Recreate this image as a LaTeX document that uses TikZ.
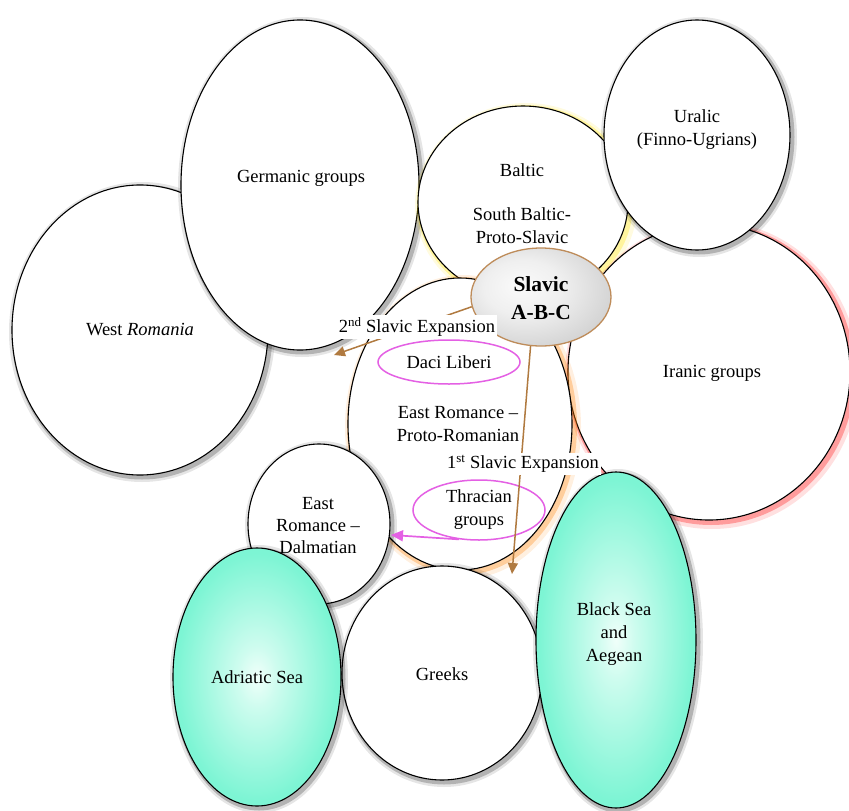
\documentclass[tikz,border=0pt]{standalone}
\usepackage{fontspec}
\setmainfont{Liberation Serif}
\usetikzlibrary{shapes.geometric,arrows.meta}
\definecolor{brownarrow}{RGB}{176,122,64}
\definecolor{slavborder}{RGB}{190,140,90}
\definecolor{magline}{RGB}{228,96,228}
\definecolor{seacenter}{RGB}{240,255,250}
\definecolor{seamid}{RGB}{125,245,212}
\definecolor{seaedge}{RGB}{128,208,190}
\definecolor{slavlight}{RGB}{250,250,250}
\definecolor{slavdark}{RGB}{178,178,178}
\pgfdeclareradialshading{seashade}{\pgfpoint{0bp}{0bp}}{color(0bp)=(seacenter); color(6bp)=(seacenter!70!seamid); color(24bp)=(seamid); color(40bp)=(seamid); color(50bp)=(seaedge); color(70bp)=(seaedge)}
\pgfdeclareradialshading{slavshade}{\pgfpoint{-8bp}{6bp}}{color(0bp)=(slavlight); color(14bp)=(slavlight!85!slavdark); color(50bp)=(slavdark); color(70bp)=(slavdark)}
\begin{document}
\begin{tikzpicture}[x=1pt,y=-1pt,
  every node/.style={font=\fontsize{18.5}{23}\selectfont, align=center},
  blob/.style={ellipse, draw=black, line width=1.1pt, fill=white, inner sep=0pt},
  halo/.style={preaction={draw=#1,line width=10pt,draw opacity=.10,transform canvas={shift={(2pt,-2pt)}}},
               preaction={draw=#1,line width=5pt,draw opacity=.22,transform canvas={shift={(2pt,-2pt)}}}},
  glow/.style={preaction={draw=#1,line width=12pt,draw opacity=.12,transform canvas={shift={(3pt,-3pt)}}},
               preaction={draw=#1,line width=6pt,draw opacity=.30,transform canvas={shift={(2pt,-2pt)}}}},
  sea/.style={blob, shading=seashade},
  tagbox/.style={fill=white, inner sep=2pt},
  ring/.style={ellipse, draw=magline, line width=1.5pt, fill=white, inner sep=0pt},
  brarrow/.style={draw=brownarrow, line width=1.5pt, -{Triangle[length=11pt,width=10pt]}},
  magarrow/.style={draw=magline, line width=1.7pt, -{Triangle[length=12pt,width=11pt]}}
]
\useasboundingbox (0,0) rectangle (849,811);

% outer blobs
\node[blob, halo=black, minimum width=256pt, minimum height=290pt] (westrom) at (140,330) {};
\node[blob, halo=black, minimum width=238pt, minimum height=330pt] (germ) at (300,185) {};
\node[blob, glow=yellow!85!orange, minimum width=210pt, minimum height=192pt] (baltic) at (523,202) {};
\node[blob, glow=red, minimum width=282pt, minimum height=296pt] (iran) at (709,372) {};
\node[blob, halo=black, minimum width=186pt, minimum height=230pt] (ural) at (697,135) {};
\node[blob, glow=orange, minimum width=224pt, minimum height=292pt] (protorom) at (460,424) {};
\node[blob, halo=black, minimum width=142pt, minimum height=160pt] (dalm) at (319,524) {};
\node[blob, halo=black, minimum width=200pt, minimum height=214pt] (greeks) at (442,673) {};
\node[sea, halo=black, minimum width=168pt, minimum height=258pt] (adriatic) at (257,677) {};
\node[sea, halo=black, minimum width=160pt, minimum height=336pt] (blacksea) at (616,640) {};

% Slavic core
\node[ellipse, draw=slavborder, line width=1.3pt, shading=slavshade,
      minimum width=140pt, minimum height=98pt, inner sep=0pt] (slavic) at (541,297) {};

% inner rings
\node[ring, minimum width=142pt, minimum height=44pt] (daci) at (449,362) {Daci Liberi};
\node[ring, minimum width=132pt, minimum height=60pt] (thrac) at (479,510) {Thracian\\groups};

% texts
\node (twest) at (140,330) {West \textit{Romania}};
\node (tgerm) at (301,178) {Germanic groups};
\node (tbal1) at (522,170) {Baltic};
\node (tbal2) at (522,226) {South Baltic-\\Proto-Slavic};
\node (tural) at (697,130) {Uralic\\(Finno-Ugrians)};
\node (tiran) at (712,373) {Iranic groups};
\node[font=\fontsize{21.5}{28}\selectfont\bfseries] (tslav) at (541,298) {Slavic\\A-B-C};
\node (tprot) at (458,424) {East Romance --\\Proto-Romanian};
\node[font=\fontsize{18.5}{22}\selectfont] (tdalm) at (318,526) {East\\Romance --\\Dalmatian};
\node (tadr) at (257,677) {Adriatic Sea};
\node (tgre) at (442,674) {Greeks};
\node (tblk) at (614,634) {Black Sea\\and\\Aegean};

% arrows
\coordinate (end2) at (334,355);
\coordinate (end1) at (512,574);
\coordinate (end3) at (391,535);
\draw[brarrow] (slavic.188) -- (end2);
\draw[brarrow] (slavic.258) -- (end1);
\draw[magarrow] (thrac.236) -- (end3);

% expansion labels
\node[tagbox] (exp2) at (417,327) {2\textsuperscript{nd} Slavic Expansion};
\node[tagbox] (exp1) at (523,464) {1\textsuperscript{st} Slavic Expansion};
\end{tikzpicture}
\end{document}
